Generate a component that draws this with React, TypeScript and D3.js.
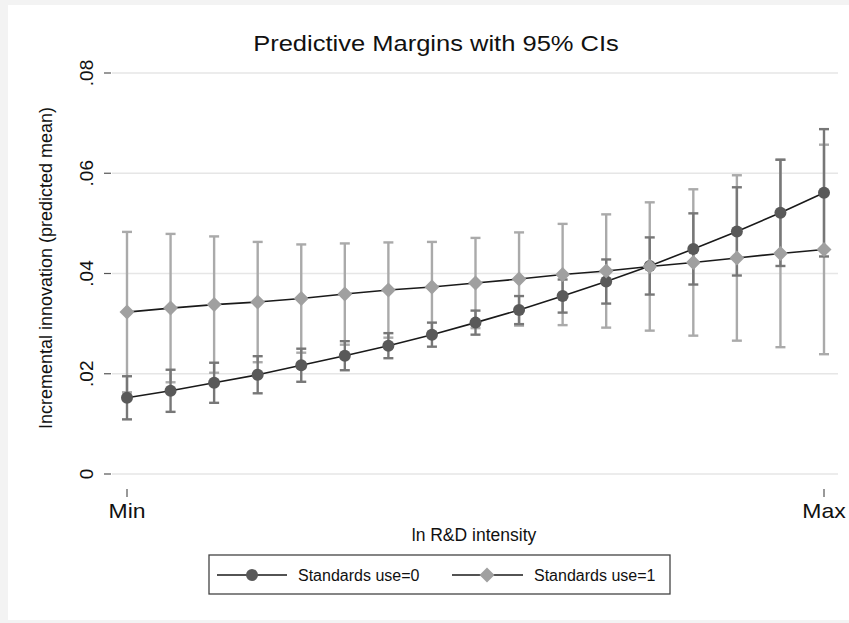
import React from "react";
import * as d3 from "d3";

// ---- data ----
const steps = [0, 1, 2, 3, 4, 5, 6, 7, 8, 9, 10, 11, 12, 13, 14, 15, 16];
const xTickValues = [0, 16];
const xTickLabels = ["Min", "Max"];
const yTickValues = [0, 0.02, 0.04, 0.06, 0.08];
const yTickLabels = ["0", ".02", ".04", ".06", ".08"];

const margin0 = [0.0152, 0.0166, 0.0182, 0.0198, 0.0217, 0.0236, 0.0256, 0.0278, 0.0302, 0.0327, 0.0355, 0.0384, 0.0415, 0.0449, 0.0484, 0.0521, 0.0561];
const lower0 = [0.0109, 0.0124, 0.0142, 0.0161, 0.0184, 0.0207, 0.0231, 0.0254, 0.0278, 0.0299, 0.0322, 0.034, 0.0358, 0.0378, 0.0396, 0.0415, 0.0434];
const upper0 = [0.0195, 0.0208, 0.0222, 0.0235, 0.025, 0.0265, 0.0281, 0.0302, 0.0326, 0.0355, 0.0388, 0.0428, 0.0472, 0.052, 0.0572, 0.0627, 0.0688];

const margin1 = [0.0323, 0.0331, 0.0338, 0.0343, 0.035, 0.0359, 0.0367, 0.0373, 0.0381, 0.0389, 0.0398, 0.0405, 0.0414, 0.0422, 0.0431, 0.044, 0.0448];
const lower1 = [0.0163, 0.0183, 0.0202, 0.0223, 0.0242, 0.0258, 0.0272, 0.0283, 0.0291, 0.0296, 0.0297, 0.0292, 0.0286, 0.0276, 0.0266, 0.0253, 0.0239];
const upper1 = [0.0483, 0.0479, 0.0474, 0.0463, 0.0458, 0.046, 0.0462, 0.0463, 0.0471, 0.0482, 0.0499, 0.0518, 0.0542, 0.0568, 0.0596, 0.0627, 0.0657];

const seriesNames = ["Standards use=0", "Standards use=1"];

const W = 849;
const H = 623;
const FONT = "'Liberation Sans', Arial, sans-serif";

export default function App() {
  const x = d3.scaleLinear().domain([0, 16]).range([127, 824]);
  const y = d3.scaleLinear().domain([0, 0.08]).range([474, 73]);

  const line = d3
    .line<number>()
    .x((_, i) => x(steps[i]))
    .y((d) => y(d));

  const col0Marker = "#595959";
  const col0CI = "#777777";
  const col1Marker = "#a0a0a0";
  const col1CI = "#aaaaaa";
  const lineCol = "#1a1a1a";
  const capHalf = 5;

  const ci = (lo: number[], hi: number[], color: string) =>
    steps.map((s, i) => (
      <g key={i} stroke={color} strokeWidth={2.4}>
        <line x1={x(s)} x2={x(s)} y1={y(lo[i])} y2={y(hi[i])} />
        <line x1={x(s) - capHalf} x2={x(s) + capHalf} y1={y(lo[i])} y2={y(lo[i])} />
        <line x1={x(s) - capHalf} x2={x(s) + capHalf} y1={y(hi[i])} y2={y(hi[i])} />
      </g>
    ));

  const diamond = (cx: number, cy: number, r: number) =>
    `M${cx},${cy - r}L${cx + r},${cy}L${cx},${cy + r}L${cx - r},${cy}Z`;

  return (
    <svg
      width={W}
      height={H}
      style={{ position: "absolute", left: 0, top: 0 }}
      fontFamily={FONT}
    >
      <rect x={0} y={0} width={W} height={H} fill="#f3f3f3" />
      <rect x={8} y={5} width={W - 8} height={615} fill="#ffffff" />

      {/* title */}
      <text
        transform="translate(436,51) scale(1.16,1)"
        textAnchor="middle"
        fontSize={22}
        fill="#111"
      >
        Predictive Margins with 95% CIs
      </text>

      {/* gridlines */}
      {yTickValues.map((v, i) => (
        <line key={i} x1={112} x2={838} y1={y(v)} y2={y(v)} stroke="#e6e6e6" strokeWidth={1.6} />
      ))}

      {/* y ticks and labels */}
      {yTickValues.map((v, i) => (
        <g key={i}>
          <line x1={104} x2={111} y1={y(v)} y2={y(v)} stroke="#555" strokeWidth={1.2} />
          <text
            transform={`translate(93,${y(v)}) rotate(-90)`}
            textAnchor="middle"
            fontSize={19}
            fill="#111"
          >
            {yTickLabels[i]}
          </text>
        </g>
      ))}
      <text
        transform={`translate(52,268) rotate(-90)`}
        textAnchor="middle"
        fontSize={18}
        fill="#111"
      >
        Incremental innovation (predicted mean)
      </text>

      {/* x ticks and labels */}
      {xTickValues.map((v, i) => (
        <g key={i}>
          <line x1={x(v)} x2={x(v)} y1={489} y2={497} stroke="#555" strokeWidth={1.2} />
          <text
            transform={`translate(${x(v)},518) scale(1.15,1)`}
            textAnchor="middle"
            fontSize={20}
            fill="#111"
          >
            {xTickLabels[i]}
          </text>
        </g>
      ))}
      <text x={474} y={541} textAnchor="middle" fontSize={17.5} fill="#111">
        ln R&amp;D intensity
      </text>

      {/* confidence intervals */}
      {ci(lower1, upper1, col1CI)}
      {ci(lower0, upper0, col0CI)}

      {/* lines */}
      <path d={line(margin0) || ""} fill="none" stroke={lineCol} strokeWidth={1.6} />
      <path d={line(margin1) || ""} fill="none" stroke={lineCol} strokeWidth={1.6} />

      {/* markers */}
      {margin0.map((v, i) => (
        <circle key={i} cx={x(steps[i])} cy={y(v)} r={6} fill={col0Marker} />
      ))}
      {margin1.map((v, i) => (
        <path key={i} d={diamond(x(steps[i]), y(v), 7.5)} fill={col1Marker} />
      ))}

      {/* legend */}
      <rect x={209} y={555} width={461} height={39} fill="#fff" stroke="#444" strokeWidth={1.3} />
      <line x1={217} x2={287} y1={575} y2={575} stroke={lineCol} strokeWidth={1.6} />
      <circle cx={252} cy={575} r={6} fill={col0Marker} />
      <text x={298} y={581} fontSize={16} fill="#111">
        {seriesNames[0]}
      </text>
      <line x1={452} x2={523} y1={575} y2={575} stroke={lineCol} strokeWidth={1.6} />
      <path d={diamond(487, 575, 7.5)} fill={col1Marker} />
      <text x={534} y={581} fontSize={16} fill="#111">
        {seriesNames[1]}
      </text>
    </svg>
  );
}
